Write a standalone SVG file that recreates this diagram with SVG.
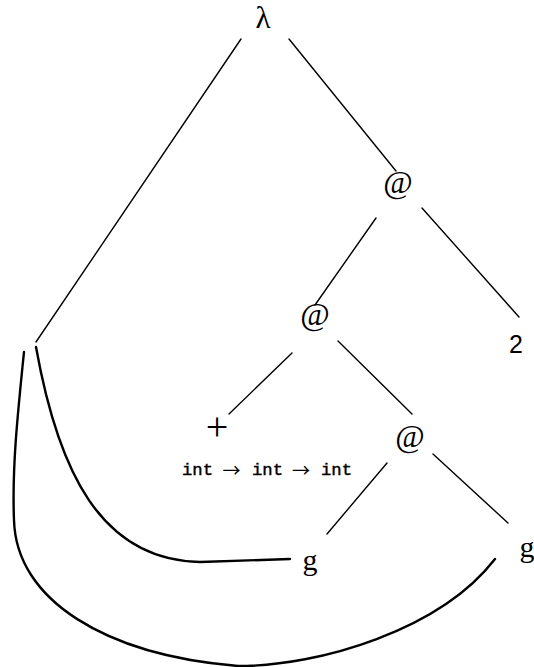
<svg xmlns="http://www.w3.org/2000/svg" width="534" height="667" viewBox="0 0 534 667">
  <style>
    .edge { stroke: #000; stroke-width: 1.4; fill: none; stroke-linecap: round; }
    .link { stroke: #000; stroke-width: 2.4; fill: none; stroke-linecap: round; }
    .sym { font-family: "Liberation Serif", "DejaVu Serif", serif; fill: #000; text-anchor: middle; }
    .at { font-family: "Liberation Serif", "DejaVu Serif", serif; font-size: 32px; fill: #000; text-anchor: middle; }
    .num { font-family: "Liberation Sans", Arial, sans-serif; fill: #000; text-anchor: middle; }
    .tt { font-family: "Liberation Mono", "DejaVu Sans Mono", monospace; font-size: 16px; fill: #000; stroke: #000; stroke-width: 0.4; }
    .arr { font-family: "Noto Sans CJK SC", "DejaVu Sans", sans-serif; font-size: 18px; fill: #000; text-anchor: middle; }
  </style>
  <rect width="534" height="667" fill="#fff"/>

  <!-- tree edges and back-links to the bound variable -->
  <g id="connectors">
    <line class="edge" x1="241" y1="39" x2="36" y2="342"/>
    <line class="edge" x1="289" y1="39" x2="396" y2="171"/>
    <line class="edge" x1="422" y1="208" x2="519" y2="317"/>
    <line class="edge" x1="376" y1="218" x2="315" y2="305"/>
    <line class="edge" x1="292" y1="353" x2="229" y2="414"/>
    <line class="edge" x1="338" y1="341" x2="412" y2="414"/>
    <line class="edge" x1="387" y1="463" x2="327" y2="534"/>
    <line class="edge" x1="433" y1="454" x2="508" y2="523"/>
    <path class="link" d="M36,347 C58,470 100,560 200,562 L290,559"/>
    <path class="link" d="M24,352 C17,420 12,470 14,520 C16,600 105,655 238,666 C320,666 440,630 495,559"/>
  </g>

  <g id="lambda">
    <text class="sym" x="263" y="28" font-size="31">λ</text>
  </g>
  <g id="app1">
    <text class="at" x="398" y="193">@</text>
  </g>
  <g id="two">
    <text class="num" x="516" y="353" font-size="25">2</text>
  </g>
  <g id="app2">
    <text class="at" x="315" y="325">@</text>
  </g>
  <g id="plus">
    <text class="sym" x="217" y="440" font-size="40">+</text>
    <text class="tt" x="182" y="475" textLength="31" lengthAdjust="spacingAndGlyphs">int</text>
    <text class="arr" x="231.5" y="477">→</text>
    <text class="tt" x="252" y="475" textLength="31" lengthAdjust="spacingAndGlyphs">int</text>
    <text class="arr" x="301" y="477">→</text>
    <text class="tt" x="321" y="475" textLength="31" lengthAdjust="spacingAndGlyphs">int</text>
  </g>
  <g id="app3">
    <text class="at" x="410" y="447">@</text>
  </g>
  <g id="var1">
    <text class="sym" x="310" y="570" font-size="30">g</text>
  </g>
  <g id="var2">
    <text class="sym" x="527" y="557" font-size="30">g</text>
  </g>
</svg>
